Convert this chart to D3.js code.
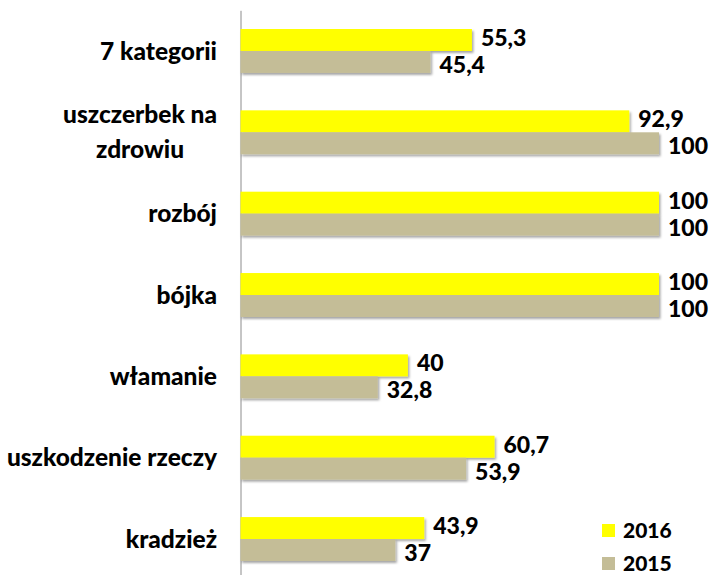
<!DOCTYPE html>
<html lang="pl">
<head>
  <meta charset="UTF-8">
  <title>Wykres</title>
  <script src="https://cdn.jsdelivr.net/npm/d3@7"></script>
  <style>
    body { margin: 0; background: #fff; }
    text { font-family: Lato, "Open Sans", sans-serif; font-weight: 900; fill: #000; }
  </style>
</head>
<body>
  <div id="main" style="width: 710px; height: 575px"></div>
  <script>
    // dane
    var categories = ["7 kategorii", "uszczerbek na\nzdrowiu", "rozbój", "bójka", "włamanie", "uszkodzenie rzeczy", "kradzież"];
    var series = ["2016", "2015"];
    var values2016 = [55.3, 92.9, 100, 100, 40, 60.7, 43.9];
    var values2015 = [45.4, 100, 100, 100, 32.8, 53.9, 37];
    var colors = ["#FFFF00", "#C4BD97"];

    var width = 710, height = 575;
    var svg = d3.select("#main").append("svg")
      .attr("width", width)
      .attr("height", height);

    // cień pod słupkami
    var defs = svg.append("defs");
    var f = defs.append("filter").attr("id", "shadow")
      .attr("x", "-5%").attr("y", "-20%").attr("width", "110%").attr("height", "150%");
    f.append("feDropShadow")
      .attr("dx", 1.5).attr("dy", 2)
      .attr("stdDeviation", 1.2)
      .attr("flood-color", "#000")
      .attr("flood-opacity", 0.35);

    var x = d3.scaleLinear().domain([0, 100]).range([240.5, 659]);
    var y = d3.scaleBand().domain(categories)
      .range([10.3, 579.7])
      .paddingInner(0.46)
      .paddingOuter(0.23);
    var sub = d3.scaleBand().domain(series).range([0, y.bandwidth()]);

    var rows = categories.map(function (c, i) {
      return { cat: c, vals: [values2016[i], values2015[i]] };
    });

    // oś pionowa
    var axis = svg.append("g")
      .attr("transform", "translate(240.5,0)")
      .call(d3.axisLeft(y).tickSize(0).tickFormat(""));
    axis.select(".domain").attr("stroke", "#8c8c8c");

    // etykiety kategorii
    var labelRight = 217;
    categories.forEach(function (c) {
      var lines = c.split("\n");
      var cy = y(c) + y.bandwidth() / 2;
      var lh = 35;
      var t = svg.append("text")
        .attr("font-size", 24.5)
        .attr("text-anchor", "middle");
      lines.forEach(function (l, j) {
        t.append("tspan")
          .attr("y", cy + (j - (lines.length - 1) / 2) * lh)
          .attr("dy", "0.35em")
          .text(l);
      });
      var w = 0;
      t.selectAll("tspan").each(function () { w = Math.max(w, this.getComputedTextLength()); });
      t.selectAll("tspan").attr("x", labelRight - w / 2);
    });

    // słupki
    var groups = svg.selectAll(".grp").data(rows).enter().append("g")
      .attr("class", "grp")
      .attr("transform", function (d) { return "translate(0," + y(d.cat) + ")"; });

    var bars = groups.selectAll("g.bar").data(function (d) {
      return series.map(function (s, k) { return { s: s, v: d.vals[k], k: k }; });
    }).enter().append("g").attr("class", "bar");

    bars.append("rect")
      .attr("x", x(0))
      .attr("y", function (d) { return sub(d.s); })
      .attr("height", sub.bandwidth())
      .attr("width", function (d) { return x(d.v) - x(0); })
      .attr("fill", function (d) { return colors[d.k]; })
      .attr("filter", "url(#shadow)");

    bars.append("text")
      .attr("x", function (d) { return x(d.v) + 9; })
      .attr("y", function (d) { return sub(d.s) + sub.bandwidth() / 2 + (d.k == 0 ? -2 : 3); })
      .attr("dy", "0.35em")
      .attr("font-size", 23)
      .text(function (d) { return String(d.v).replace(".", ","); });

    // legenda
    var legend = svg.append("g").attr("transform", "translate(602,524)");
    series.forEach(function (s, k) {
      legend.append("rect")
        .attr("x", 0).attr("y", k * 33)
        .attr("width", 13).attr("height", 13)
        .attr("fill", colors[k]);
      legend.append("text")
        .attr("x", 21).attr("y", k * 33 + 7)
        .attr("dy", "0.35em")
        .attr("font-size", 21)
        .text(s);
    });
  </script>
</body>
</html>
